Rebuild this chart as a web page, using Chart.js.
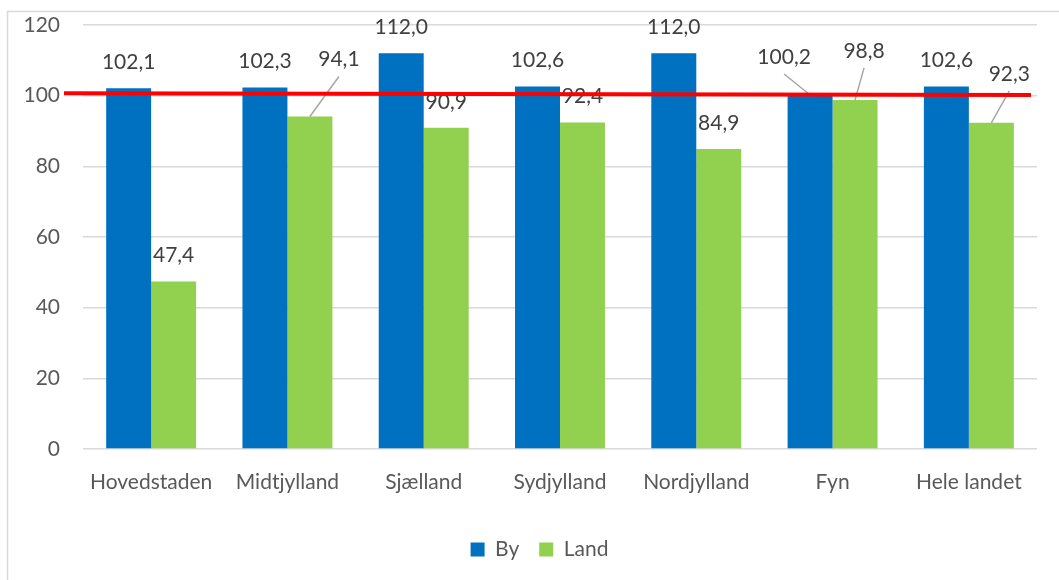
<!DOCTYPE html>
<html><head><meta charset="utf-8">
<script src="https://cdn.jsdelivr.net/npm/chart.js@4"></script>
<style>html,body{margin:0;padding:0;background:#fff;overflow:hidden}#wrap{width:1059px;height:580px;position:relative}</style>
</head><body><div id="wrap"><canvas id="c"></canvas></div>
<script>
const categories = ['Hovedstaden','Midtjylland','Sjælland','Sydjylland','Nordjylland','Fyn','Hele landet'];
const byValues = [102.1, 102.3, 112.0, 102.6, 112.0, 100.2, 102.6];
const landValues = [47.4, 94.1, 90.9, 92.4, 84.9, 98.8, 92.3];
const yTickMin = 0, yTickMax = 120, yTickStep = 20;
const refLine = [100.7, 100.2]; // red reference line: value at left end, value at right end

// label placement style (pixel offsets from bar top; null = default above bar)
const labelShifts = [
  [null, null, null, null, null, [-26, -38], null],
  [null, [29, -57], null, null, null, [9, -49], [18, -49]]
];

const fmt = v => v.toFixed(1).replace('.', ',');
const FONT = 'Lato';

const framePlugin = {
  id: 'frame',
  beforeDraw(chart) {
    const ctx = chart.ctx;
    ctx.save();
    ctx.fillStyle = '#fff';
    ctx.fillRect(0, 0, chart.width, chart.height);
    ctx.strokeStyle = '#d9d9d9';
    ctx.lineWidth = 1.5;
    ctx.strokeRect(7.5, 11.5, 1200, 800);
    ctx.restore();
  },
  afterLayout(chart) {
    // Excel centres the legend slightly right of the canvas centre
    if (chart.legend) { chart.legend.left += 21; chart.legend.right += 21; }
  }
};

const labelPlugin = {
  id: 'barLabels',
  afterDatasetsDraw(chart) {
    const ctx = chart.ctx;
    ctx.save();
    ctx.font = '21px ' + FONT;
    ctx.textAlign = 'center';
    ctx.textBaseline = 'middle';
    chart.data.datasets.forEach((ds, di) => {
      const meta = chart.getDatasetMeta(di);
      meta.data.forEach((bar, i) => {
        const s = labelShifts[di][i];
        const dx = s ? s[0] : 0, dy = s ? s[1] : -26;
        const lx = bar.x + dx, ly = bar.y + dy;
        if (s) {
          ctx.strokeStyle = '#a6a6a6';
          ctx.lineWidth = 1.5;
          ctx.beginPath();
          ctx.moveTo(lx, ly + 17);
          ctx.lineTo(bar.x, bar.y);
          ctx.stroke();
        }
        ctx.fillStyle = '#404040';
        ctx.fillText(fmt(ds.data[i]), lx, ly);
      });
    });
    ctx.restore();
  },
  afterDraw(chart) {
    const ctx = chart.ctx, a = chart.chartArea, y = chart.scales.y;
    ctx.save();
    ctx.strokeStyle = '#ff0000';
    ctx.lineWidth = 4;
    ctx.beginPath();
    ctx.moveTo(a.left - 19, y.getPixelForValue(refLine[0]));
    ctx.lineTo(a.right - 6, y.getPixelForValue(refLine[1]));
    ctx.stroke();
    ctx.restore();
  }
};

new Chart(document.getElementById('c'), {
  type: 'bar',
  data: {
    labels: categories,
    datasets: [
      { label: 'By', data: byValues, backgroundColor: '#0070c0', borderWidth: 0 },
      { label: 'Land', data: landValues, backgroundColor: '#92d050', borderWidth: 0 }
    ]
  },
  options: {
    responsive: true,
    maintainAspectRatio: false,
    animation: false,
    datasets: { bar: { barPercentage: 1, categoryPercentage: 0.66 } },
    layout: { padding: { left: 0, right: 22, top: 25, bottom: 10 } },
    plugins: {
      tooltip: { enabled: false },
      legend: {
        position: 'bottom',
        labels: {
          font: { family: FONT, size: 21 },
          color: '#595959',
          boxWidth: 14, boxHeight: 14,
          padding: 20
        }
      }
    },
    scales: {
      y: {
        min: yTickMin, max: yTickMax,
        ticks: { stepSize: yTickStep, color: '#595959', font: { family: FONT, size: 21 }, padding: 23 },
        grid: { color: '#d9d9d9', lineWidth: 1.5, drawTicks: false },
        border: { display: false },
        afterFit: s => { s.width = 83; s.paddingTop = 12; s.paddingBottom = 12; }
      },
      x: {
        ticks: { color: '#595959', font: { family: FONT, size: 21 }, padding: 21, maxRotation: 0, autoSkip: false },
        grid: { display: false, drawTicks: false },
        border: { display: false },
        afterFit: s => { s.height = 70; }
      }
    }
  },
  plugins: [framePlugin, labelPlugin]
});
</script>
</body></html>
